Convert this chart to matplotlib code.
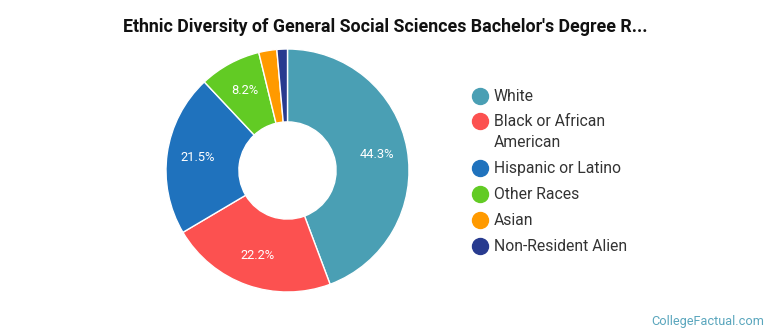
import matplotlib
matplotlib.use("Agg")
import matplotlib.pyplot as plt
from matplotlib.lines import Line2D
import numpy as np

plt.rcParams['font.family'] = ['Roboto', 'DejaVu Sans']

title = "Ethnic Diversity of General Social Sciences Bachelor's Degree R..."
categories = ["White", "Black or African\nAmerican", "Hispanic or Latino",
              "Other Races", "Asian", "Non-Resident Alien"]
values = [44.3, 22.2, 21.5, 8.2, 2.4, 1.4]
colors = ["#4a9fb4", "#fc5150", "#1f72bd", "#62cb24", "#ff9a00", "#283b8f"]
show_label = [True, True, True, True, False, False]
watermark = "CollegeFactual.com"

W, H = 770, 335
fig = plt.figure(figsize=(W / 100, H / 100), dpi=100)

cx, cy, R = 287.5, 170.5, 121.5
half = 125
ax = fig.add_axes([(cx - half) / W, (H - cy - half) / H, 2 * half / W, 2 * half / H])

r = R / half
wedges, _ = ax.pie(values, colors=colors, startangle=90, counterclock=False,
                   radius=r, wedgeprops=dict(width=r * 0.6, edgecolor='white', linewidth=1.0))
ax.set_xlim(-1, 1)
ax.set_ylim(-1, 1)
ax.set_aspect('equal')
ax.axis('off')

total = sum(values)
cum = 0
for v, show in zip(values, show_label):
    mid = 90 - (cum + v / 2) / total * 360
    cum += v
    if show:
        rr = r * 0.745
        ax.text(rr * np.cos(np.radians(mid)), rr * np.sin(np.radians(mid)),
                f"{v:.1f}%", color='white', fontsize=9.3, ha='center', va='center')

fig.text(385 / W, 1 - 27 / H, title, ha='center', va='center',
         fontsize=12.8, fontweight='bold', color='#111111')

# legend
ys = [96, 121, 168, 194, 220, 246]
for lab, col, y in zip(categories, colors, ys):
    fig.add_artist(Line2D([480 / W], [1 - y / H], marker='o', markersize=11.5,
                          color=col, linestyle='none', transform=fig.transFigure))
    fig.text(494 / W, 1 - (y - 7) / H, lab, ha='left', va='top',
             fontsize=11.3, color='#333333', linespacing=1.53)

fig.text(764 / W, 1 - 321 / H, watermark, ha='right', va='center',
         fontsize=9.2, color='#5aa6bd')

fig.savefig("out.png", dpi=100)
